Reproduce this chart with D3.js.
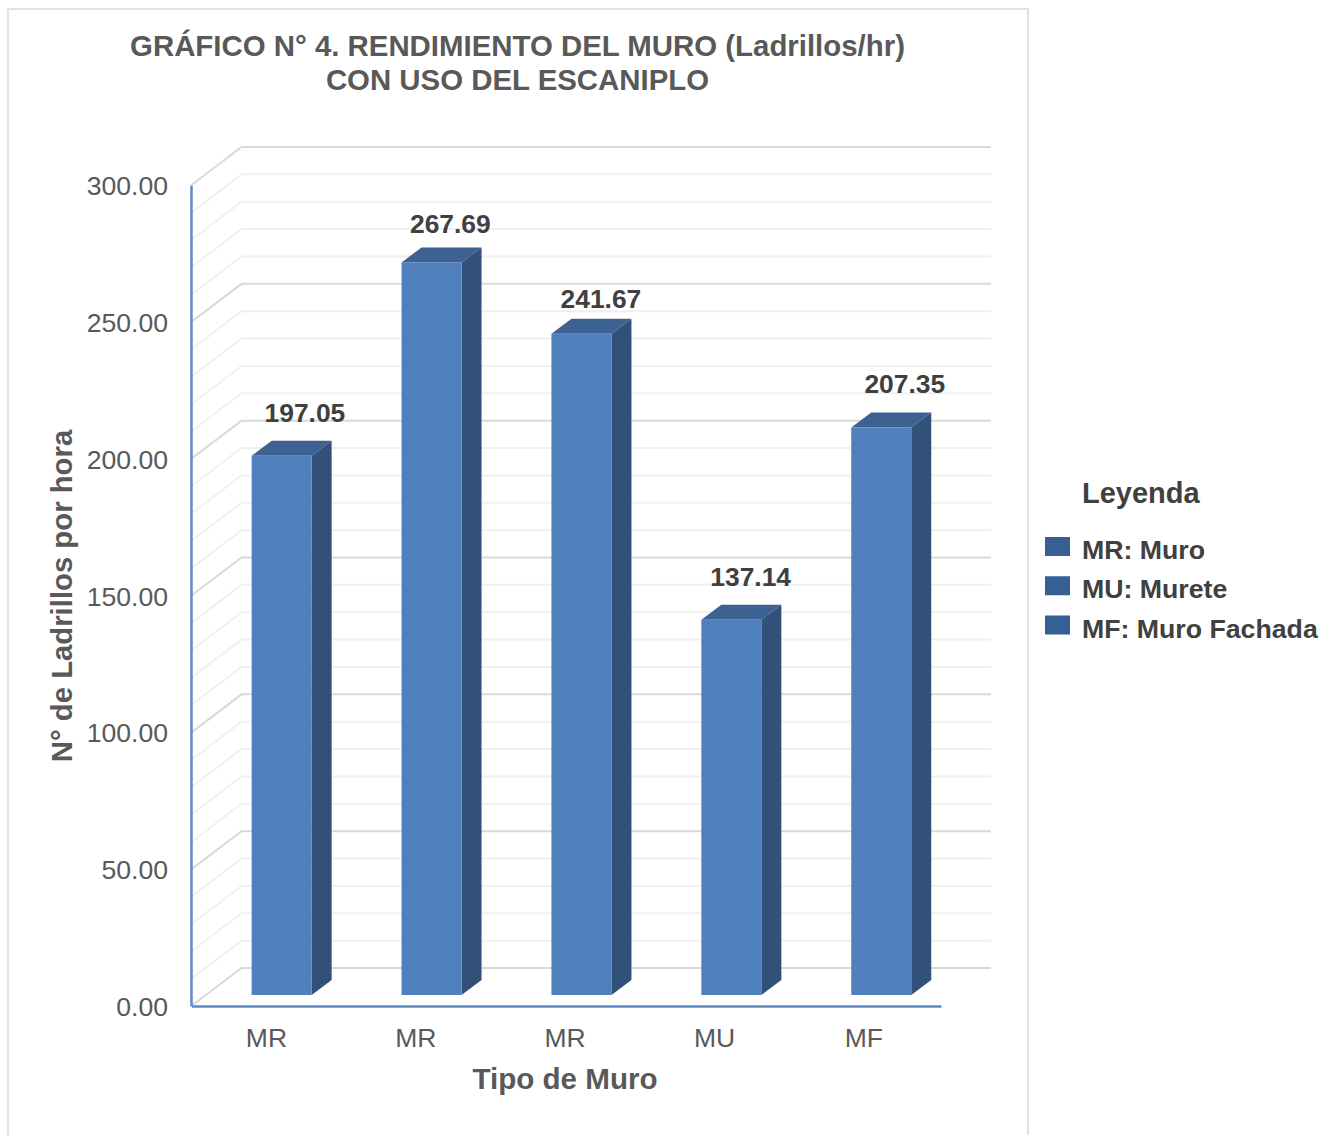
<!DOCTYPE html>
<html>
<head>
<meta charset="utf-8">
<script src="https://d3js.org/d3.v7.min.js"></script>
<style>
html, body { margin: 0; padding: 0; background: #fff; }
svg { display: block; font-family: "Liberation Sans", Arial, sans-serif; }
</style>
</head>
<body>
<svg id="chart" width="1333" height="1135"></svg>
<script>
// chart data
const categories = ["MR", "MR", "MR", "MU", "MF"];
const values = [197.05, 267.69, 241.67, 137.14, 207.35];
const yTicks = [0, 50, 100, 150, 200, 250, 300];
const yMinorTicks = d3.range(0, 301, 10);
const legendItems = ["MR: Muro", "MU: Murete", "MF: Muro Fachada"];

const svg = d3.select("#chart");

// outer frame, runs off the bottom of the picture
svg.append("path")
  .attr("d", "M8,1135V9H1028V1135")
  .attr("fill", "none")
  .attr("stroke", "#d9d9d9")
  .attr("stroke-width", 1.5);

const title = svg.append("text")
  .attr("text-anchor", "middle")
  .attr("font-weight", "bold")
  .attr("font-size", 29.4)
  .attr("fill", "#595959");
title.append("tspan").attr("x", 517.5).attr("y", 56).text("GRÁFICO N° 4. RENDIMIENTO DEL MURO (Ladrillos/hr)");
title.append("tspan").attr("x", 517.5).attr("y", 90).text("CON USO DEL ESCANIPLO");

// scales
const x = d3.scaleBand().domain(d3.range(categories.length)).range([191.5, 941]);
const y = d3.scaleLinear().domain([0, 300]).range([1006, 185]);

// 3d offsets: wall depth, bar position inside the floor, bar depth
const wallDx = 50, wallDy = -38;
const barDx = 15.2, barDy = -11;
const depthDx = 20, depthDy = -15;
const barWidth = 60;

// gridlines on side wall and back wall
const grid = svg.append("g").attr("fill", "none").attr("stroke-width", 2);
grid.selectAll("path")
  .data(yMinorTicks)
  .join("path")
  .sort((a, b) => (a % 50 === 0) - (b % 50 === 0))
  .attr("stroke", d => d % 50 === 0 ? "#d9d9d9" : "#f0f0f0")
  .attr("d", d => `M${x.range()[0]},${y(d)}l${wallDx},${wallDy}H991`);

// bars
const bars = svg.append("g").selectAll("g")
  .data(values)
  .join("g")
  .attr("transform", (d, i) => `translate(${x(i) + x.bandwidth() / 2 + barDx - barWidth / 2},${barDy})`);

bars.append("path")
  .attr("fill", "#3d6291")
  .attr("d", d => `M0,${y(d)}l${depthDx},${depthDy}h${barWidth}l${-depthDx},${-depthDy}Z`);

bars.append("path")
  .attr("fill", "#325178")
  .attr("d", d => `M${barWidth},${y(d)}l${depthDx},${depthDy}V${y(0) + depthDy}l${-depthDx},${-depthDy}Z`);

bars.append("rect")
  .attr("y", d => y(d))
  .attr("width", barWidth)
  .attr("height", d => y(0) - y(d))
  .attr("fill", "#4f7fbc");

// value labels were nudged by hand in the original
const labelNudgeX = [23.3, 18.8, 19.5, 19.3, 23.5];
const labelNudgeY = [-34, -29, -26, -34, -35];
svg.append("g").selectAll("text")
  .data(values)
  .join("text")
  .attr("text-anchor", "middle")
  .attr("font-weight", "bold")
  .attr("font-size", 26.4)
  .attr("fill", "#404040")
  .attr("x", (d, i) => x(i) + x.bandwidth() / 2 + barDx + labelNudgeX[i])
  .attr("y", (d, i) => y(d) + barDy + labelNudgeY[i])
  .text(d => d3.format(".2f")(d));

// axes (d3 adds its own half pixel offset)
const yAxis = svg.append("g")
  .attr("transform", "translate(191,0)")
  .call(d3.axisLeft(y).tickValues(yTicks).tickSize(0).tickPadding(23).tickFormat(d3.format(".2f")));
const xAxis = svg.append("g")
  .attr("transform", "translate(0,1006)")
  .call(d3.axisBottom(x).tickSize(0).tickPadding(22).tickFormat(i => categories[i]));

yAxis.selectAll("text").attr("y", 1).attr("font-size", 26.6).attr("fill", "#595959").attr("font-family", "Liberation Sans");
xAxis.selectAll("text").attr("dx", i => -0.55 * i).attr("font-size", 26.5).attr("fill", "#595959").attr("font-family", "Liberation Sans");
yAxis.select(".domain").attr("stroke", "#5b8cc6").attr("stroke-width", 2.5);
xAxis.select(".domain").attr("stroke", "#5b8cc6").attr("stroke-width", 2.5);

// axis titles
svg.append("text")
  .attr("transform", "translate(72,596) rotate(-90)")
  .attr("text-anchor", "middle")
  .attr("font-weight", "bold")
  .attr("font-size", 29.3)
  .attr("fill", "#595959")
  .text("N° de Ladrillos por hora");

svg.append("text")
  .attr("x", 565)
  .attr("y", 1089)
  .attr("text-anchor", "middle")
  .attr("font-weight", "bold")
  .attr("font-size", 29.6)
  .attr("fill", "#595959")
  .text("Tipo de Muro");

// legend
svg.append("text")
  .attr("x", 1082)
  .attr("y", 503)
  .attr("font-weight", "bold")
  .attr("font-size", 29)
  .attr("fill", "#404040")
  .text("Leyenda");

const legendY = d3.scalePoint().domain(legendItems).range([537, 615.5]);
const legend = svg.append("g").selectAll("g")
  .data(legendItems)
  .join("g")
  .attr("transform", d => `translate(1045,${legendY(d)})`);
legend.append("rect")
  .attr("width", 25)
  .attr("height", 19)
  .attr("fill", "#365f93");
legend.append("text")
  .attr("x", 37)
  .attr("y", 22)
  .attr("font-weight", "bold")
  .attr("font-size", 26.7)
  .attr("fill", "#404040")
  .text(d => d);
</script>
</body>
</html>
